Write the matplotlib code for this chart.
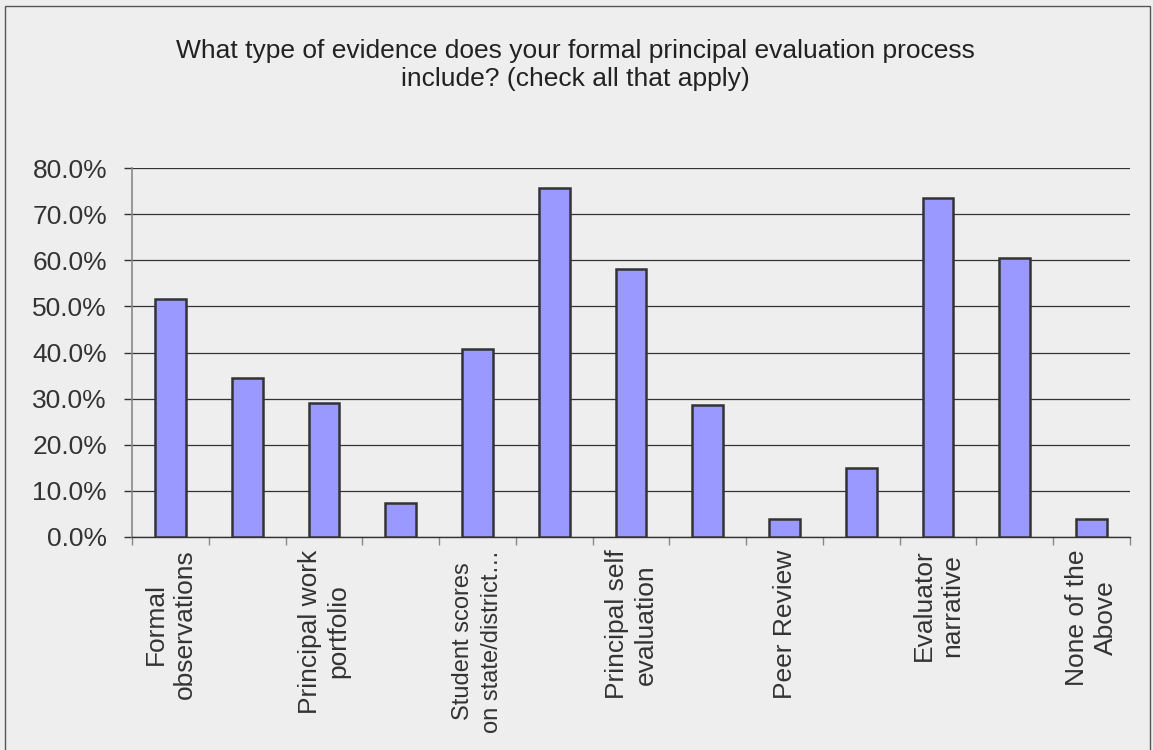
import matplotlib
matplotlib.use("Agg")
import matplotlib.pyplot as plt
from matplotlib.patches import Rectangle
from matplotlib.ticker import FuncFormatter, FixedLocator
import numpy as np

# Survey results: share of respondents selecting each type of evidence
categories = [
    "Formal\nobservations", "",
    "Principal work\nportfolio", "",
    "Student scores\non state/district…", "",
    "Principal self\nevaluation", "",
    "Peer Review", "",
    "Evaluator\nnarrative", "",
    "None of the\nAbove",
]
values = [0.516, 0.344, 0.291, 0.073, 0.408, 0.756, 0.581,
          0.286, 0.038, 0.150, 0.735, 0.605, 0.038]
y_ticks = [0.0, 0.1, 0.2, 0.3, 0.4, 0.5, 0.6, 0.7, 0.8]

TITLE = ("What type of evidence does your formal principal evaluation process\n"
         "include? (check all that apply)")

BG = "#eeeeee"
TEXT = "#333333"
plt.rcParams["font.family"] = ["Liberation Sans", "DejaVu Sans"]

W, H = 1153, 750
fig = plt.figure(figsize=(W / 100, H / 100), dpi=100, facecolor=BG)

# outer chart frame
fig.patches.append(Rectangle((5 / W, -0.01), 1145 / W, 1.0 - 6 / H + 0.01,
                             transform=fig.transFigure, fill=False,
                             edgecolor="#555555", linewidth=1.0))

ax = fig.add_axes([132 / W, 1 - 537 / H, (1130 - 132) / W, (537 - 168) / H])
ax.set_facecolor(BG)

x = np.arange(len(values))
ax.bar(x, values, width=0.4, color="#9999ff", edgecolor="#333333",
       linewidth=1.8, zorder=3)

ax.set_xlim(-0.5, len(values) - 0.5)
ax.set_ylim(0, 0.8)

ax.set_yticks(y_ticks)
ax.yaxis.set_major_formatter(FuncFormatter(lambda v, _: f"{v * 100:.1f}%"))
ax.tick_params(axis="y", length=6, width=1, color="#333333",
               labelsize=19, labelcolor=TEXT, pad=12)
ax.grid(axis="y", color="#333333", linewidth=0.9, zorder=1)

# category labels at bar centres, tick marks on category boundaries
ax.set_xticks(x)
ax.set_xticklabels(categories, rotation=90, ha="center", va="top",
                   multialignment="center", linespacing=1.25)
ax.tick_params(axis="x", which="major", length=0, labelsize=19,
               labelcolor=TEXT, pad=9)
ax.get_xticklabels()[4].set_fontsize(17)
ax.get_xticklabels()[4].set_linespacing(1.4)
ax.xaxis.set_minor_locator(FixedLocator(np.arange(len(values) + 1) - 0.5))
ax.tick_params(axis="x", which="minor", length=6, width=1, color="#888888")

for s in ("top", "right"):
    ax.spines[s].set_visible(False)
ax.spines["left"].set_color("#888888")
ax.spines["left"].set_linewidth(1.2)
ax.spines["bottom"].set_color("#333333")
ax.spines["bottom"].set_linewidth(1.0)

fig.text(575 / W, 1 - 65 / H, TITLE, ha="center", va="center",
         fontsize=19, color="#222222", linespacing=1.22)

fig.savefig("out.png", dpi=100, facecolor=BG)
